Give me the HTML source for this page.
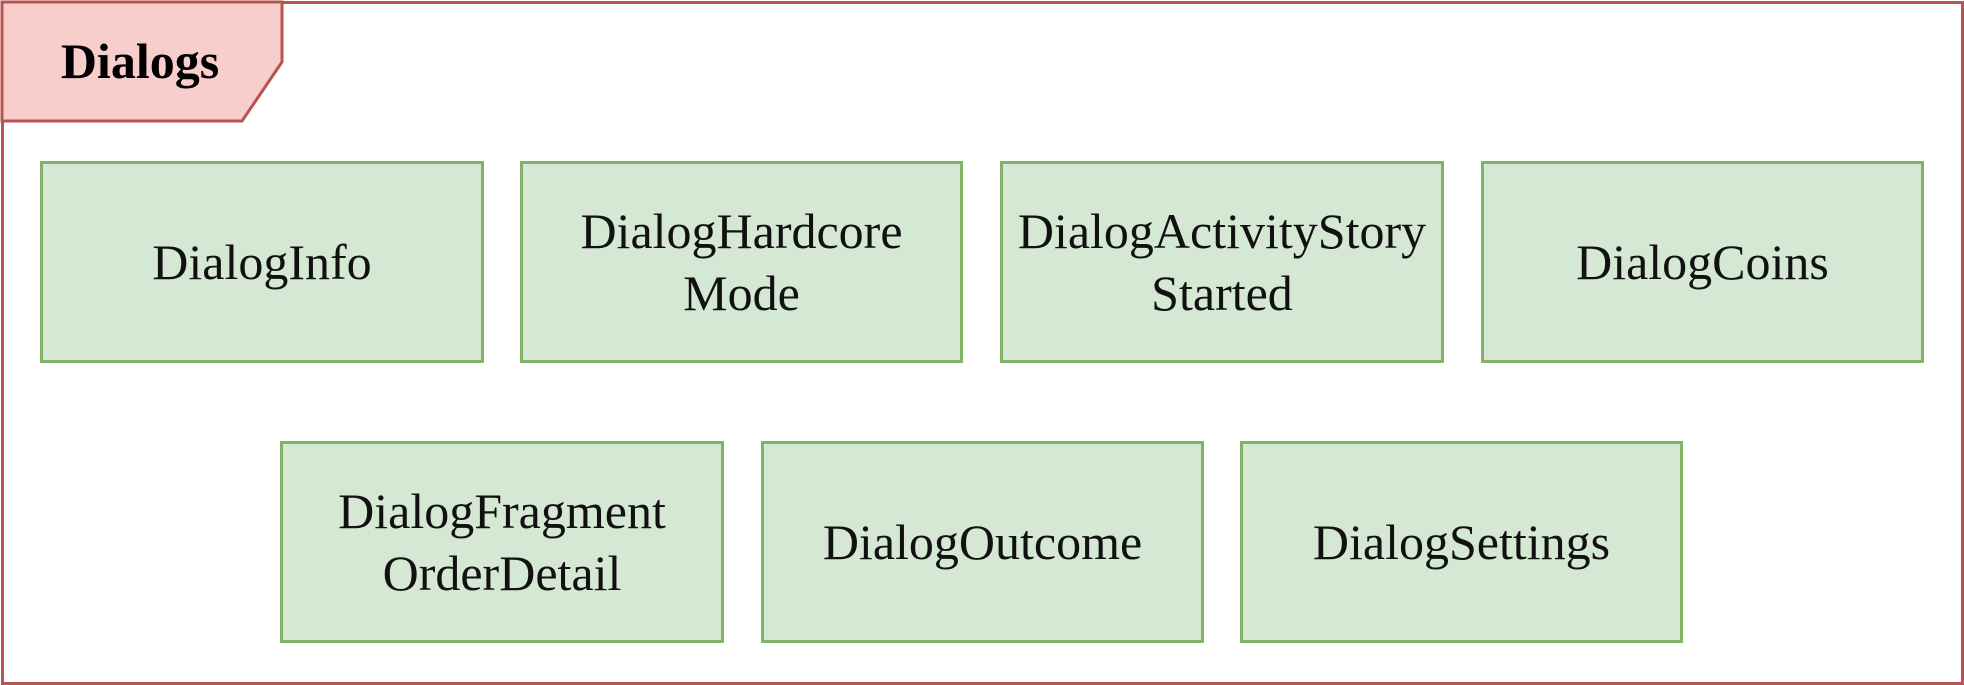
<!DOCTYPE html>
<html><head><meta charset="utf-8"><style>
body{margin:0;width:1964px;height:684px;background:#fff;position:relative;overflow:hidden;font-family:"Liberation Serif",serif;}
.frame{position:absolute;left:1px;top:1px;width:1957px;height:678px;border:3px solid #b85450;}
.b{position:absolute;background:#d5e8d4;border:3px solid #82b366;box-sizing:border-box;display:flex;align-items:center;justify-content:center;text-align:center;font-size:50px;line-height:62px;color:#111;}
</style></head><body>
<div class="frame"></div>
<svg style="position:absolute;left:0;top:0" width="300" height="130">
<polygon points="2,2 282,2 282,62 242,121 2,121" fill="#f8cecc" stroke="#b85450" stroke-width="3"/>
<text x="140" y="78" text-anchor="middle" font-family="Liberation Serif" font-weight="bold" font-size="50" fill="#000">Dialogs</text>
</svg>
<div class="b" style="left:40px;top:161px;width:444px;height:202px">DialogInfo</div>
<div class="b" style="left:520px;top:161px;width:443px;height:202px">DialogHardcore<br>Mode</div>
<div class="b" style="left:1000px;top:161px;width:444px;height:202px">DialogActivityStory<br>Started</div>
<div class="b" style="left:1481px;top:161px;width:443px;height:202px">DialogCoins</div>
<div class="b" style="left:280px;top:441px;width:444px;height:202px">DialogFragment<br>OrderDetail</div>
<div class="b" style="left:761px;top:441px;width:443px;height:202px">DialogOutcome</div>
<div class="b" style="left:1240px;top:441px;width:443px;height:202px">DialogSettings</div>
</body></html>
